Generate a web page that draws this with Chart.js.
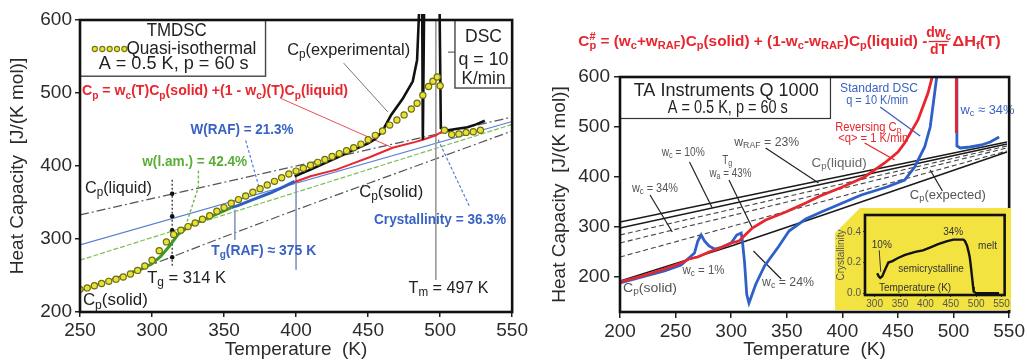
<!DOCTYPE html>
<html><head><meta charset="utf-8">
<script src="https://cdn.jsdelivr.net/npm/chart.js@4.4.1/dist/chart.umd.min.js"></script>
<style>
html,body{margin:0;padding:0;background:#fff;}
#wrap{position:relative;width:1027px;height:361px;overflow:hidden;background:#fff;}
canvas{position:absolute;}
</style></head><body>
<div id="wrap">
<canvas id="cvL" width="530" height="361" style="left:0;top:0"></canvas>
<canvas id="cvR" width="497" height="361" style="left:530px;top:0"></canvas>
<canvas id="cvI" width="176" height="103" style="left:835px;top:207px"></canvas>
</div>
<script>
const FONT = '"Liberation Sans", Arial, Helvetica, sans-serif';

// ---------- left panel: TMDSC quasi-isothermal vs DSC ----------
const xTicksL = [250, 300, 350, 400, 450, 500, 550];
const yTicksL = [200, 300, 400, 500, 600];

const qiT  = [250,255,260,265,270,275,280,285,290,295,300,305,310,315,320,325,330,335,340,345,350,355,360,365,370,375,380,385,390,395,400,405,410,415,420,425,430,435,440,445,450,455,460,465,470,475,480,484,488,492,495,498,500,503,508,513,518,523,528];
const qiCp = [231,233,236,239,242,245,248,252,257,263,271,284,296,306,312,317,322,327,332,338,343,349,354,359,364,369,374,379,384,389,393,397,401,405,409,413,417,421,425,430,436,442,448,456,463,470,478,486,497,509,516,522,510,449,443,444,446,447,449];

const dscT  = [399,410,420,430,440,450,455,460,466,474,481,484,486,487.5,488,489,490,499.5,500.5,505.5,512,519,525,531];
const dscCp = [386,395,404,413,422,431,437,448,470,492,516,545,640,640,436,640,640,640,452,449,451,453,457,462];

const calcT  = [399,410,428,440,451,467,483,488,497,503];
const calcCp = [378,386,395,404,412,425,433,436,442,449];

const lamT  = [285,292,300,306,312,318,327,339,355];
const lamCp = [254,258,266,276,290,306,319,329,343];
const rafT  = [355,360,370,382,392,399];
const rafCp = [343,346,354,363,372,379];

const liqT = [250, 550],  liqCp = [333, 467];
const solT = [250, 300, 350, 400, 450, 500, 550], solCp = [229, 265, 303, 340, 376, 412, 448];
const rafRefT = [250, 550], rafRefCp = [292, 461];
const lamRefT = [250, 550], lamRefCp = [271, 457];

const tgT = [314,314,314,314,314,314], tgCp = [381,362,331,312,275,262];

// ---------- right panel: reversing Cp vs standard DSC ----------
const xTicksR = [200, 250, 300, 350, 400, 450, 500, 550];
const yTicksR = [200, 300, 400, 500, 600];

const revT  = [200,220,240,255,262,270,280,290,300,307,313,319,331,349,367,380,400,420,438,450,456,468,477,482,490,502.5,502.5];
const revCp = [190,202,216,228,236,240,250,258,268,272,285,298,314,330,348,362,380,400,428,450,468,514,568,610,null,610,488];

const stdT  = [200,220,240,255,262,267,270,273,276,280,285,292,300,305,309,310,312,314,316,318,322,330,343,352,367,381,417,440,456,465,474,479,483,486,495,503,503,506,515,525,533,541];
const stdCp = [188,200,212,224,238,248,272,284,272,262,256,260,268,284,288,274,230,165,148,160,185,222,262,292,316,330,364,380,394,420,460,500,568,620,null,620,462,458,460,464,470,480];

const liqRT = [200, 548], liqRCp = [310, 470];
const w10T  = [200, 548], w10Cp  = [298, 466];
const w34T  = [200, 548], w34Cp  = [284, 462];
const wAT   = [200, 548], wACp   = [268, 458];
const wBT   = [200, 548], wBCp   = [240, 452];
const solRT = [200, 300, 380, 548], solRCp = [192, 262, 322, 450];

// ---------- inset: crystallinity ----------
const xTicksI = [300, 350, 400, 450, 500, 550];
const yTicksI = [0.0, 0.2, 0.4];
const crT = [305,308,311,315,320,327,335,346,360,380,395,410,425,443,455,469,475,478,482,485,487,489,492,494,495,500,510,520,530,545];
const crW = [0.13,0.11,0.10,0.11,0.15,0.20,0.21,0.23,0.25,0.27,0.28,0.30,0.32,0.34,0.35,0.35,0.35,0.34,0.31,0.27,0.24,0.19,0.10,0.04,0.01,0.0,0.0,0.0,0.0,0.0];

// ---------- helpers ----------
function pts(T, C) { return T.map((t, i) => ({ x: t, y: C[i] })); }
function line(T, C, color, width, dash, extra) {
  return Object.assign({
    data: pts(T, C), borderColor: color, borderWidth: width, borderDash: dash || [],
    pointRadius: 0, fill: false, tension: 0, spanGaps: false
  }, extra || {});
}

function parseRich(s) {
  const out = []; const re = /_\{([^}]*)\}|\^\{([^}]*)\}|([^_^]+)/g; let m;
  while ((m = re.exec(s))) {
    if (m[1] !== undefined) out.push({ t: m[1], m: 'b' });
    else if (m[2] !== undefined) out.push({ t: m[2], m: 'p' });
    else out.push({ t: m[3], m: '' });
  }
  return out;
}
function drawRich(ctx, x, y, s, o) {
  const size = o.size || 14, wt = o.weight || 'normal';
  const parts = parseRich(s);
  parts.forEach(p => { p.fs = p.m ? size * 0.72 : size; ctx.font = `${wt} ${p.fs}px ${FONT}`; p.w = ctx.measureText(p.t).width; });
  let total = 0;
  parts.forEach((p, i) => {
    const nx = parts[i + 1], pv = parts[i - 1];
    if (p.m === 'p' && nx && nx.m === 'b') p.adv = 0;
    else if (p.m === 'b' && pv && pv.m === 'p') p.adv = Math.max(p.w, pv.w);
    else p.adv = p.w;
    total += p.adv;
  });
  const sx = o.w ? o.w / total : 1;
  const W = total * sx;
  const x0 = o.align === 'center' ? x - W / 2 : o.align === 'right' ? x - W : x;
  ctx.save();
  ctx.translate(x0, y); ctx.scale(sx, 1);
  ctx.fillStyle = o.color || '#222'; ctx.textBaseline = 'middle'; ctx.textAlign = 'left';
  let cx = 0;
  parts.forEach(p => {
    ctx.font = `${wt} ${p.fs}px ${FONT}`;
    const dy = p.m === 'b' ? size * 0.3 : p.m === 'p' ? -size * 0.34 : 0;
    ctx.fillText(p.t, cx, dy);
    cx += p.adv;
  });
  ctx.restore();
}

function makeNotes(items) {
  return {
    id: 'notes',
    afterDatasetsDraw(chart) {
      const ctx = chart.ctx, xs = chart.scales.x, ys = chart.scales.y;
      const X = v => xs.getPixelForValue(v), Y = v => ys.getPixelForValue(v);
      items.forEach(it => {
        if (it.t === 'text') drawRich(ctx, X(it.x), Y(it.y), it.s, it);
        else if (it.t === 'box') {
          ctx.save(); ctx.strokeStyle = it.color || '#333'; ctx.lineWidth = it.lw || 1.2;
          ctx.fillStyle = '#fff';
          const x1 = X(it.x1), y1 = Y(it.y1), x2 = X(it.x2), y2 = Y(it.y2);
          ctx.fillRect(x1, y1, x2 - x1, y2 - y1);
          ctx.strokeRect(x1, y1, x2 - x1, y2 - y1); ctx.restore();
        } else if (it.t === 'dots') {
          ctx.save(); ctx.fillStyle = '#e8e13a'; ctx.strokeStyle = '#77770f'; ctx.lineWidth = 1.1;
          it.xs.forEach(v => { ctx.beginPath(); ctx.arc(X(v), Y(it.y), 2.6, 0, Math.PI * 2); ctx.fill(); ctx.stroke(); });
          ctx.restore();
        } else if (it.t === 'frac') {
          const cx = X(it.x);
          drawRich(ctx, cx, Y(it.y1), it.num, { size: it.size, color: it.color, weight: it.weight, align: 'center' });
          drawRich(ctx, cx, Y(it.y2), it.den, { size: it.size, color: it.color, weight: it.weight, align: 'center' });
          ctx.save(); ctx.strokeStyle = it.color; ctx.lineWidth = 1.3;
          const ym = (Y(it.y1) + Y(it.y2)) / 2;
          ctx.beginPath(); ctx.moveTo(cx - it.half, ym); ctx.lineTo(cx + it.half, ym); ctx.stroke(); ctx.restore();
        }
      });
      const a = chart.chartArea;
      ctx.save(); ctx.strokeStyle = '#111'; ctx.lineWidth = 2.6;
      ctx.strokeRect(a.left, a.top, a.right - a.left, a.bottom - a.top); ctx.restore();
    }
  };
}

function axis(o) {
  const ticks = { autoSkip: false, maxRotation: 0, padding: o.pad, color: '#2b2b2b', font: { family: FONT, size: o.fs } };
  if (o.cb) ticks.callback = o.cb;
  return {
    type: 'linear', min: o.min, max: o.max,
    afterBuildTicks: s => { s.ticks = o.ticks.map(v => ({ value: v })); },
    afterFit: s => { if (o.w != null) s.width = o.w; if (o.h != null) s.height = o.h; },
    grid: { display: true, drawOnChartArea: false, drawTicks: true, tickLength: o.tl, color: '#222', lineWidth: 1.5 },
    border: { display: false },
    ticks,
    title: { display: !!o.title, text: o.title, color: '#2b2b2b', font: { family: FONT, size: o.tfs || o.fs }, padding: o.tpad || 0 }
  };
}

function baseOptions(pad, xs, ys) {
  return {
    responsive: false, animation: false, events: [],
    layout: { padding: pad },
    plugins: { legend: { display: false }, tooltip: { enabled: false } },
    scales: { x: xs, y: ys }
  };
}

// ---------- left chart ----------
const GRAY = '#555';
const leftSets = [
  line(liqT, liqCp, GRAY, 1.2, [9, 3, 2, 3]),
  line(solT, solCp, GRAY, 1.2, [9, 3, 2, 3]),
  line(rafRefT, rafRefCp, '#5a7fd0', 1.2, []),
  line(lamRefT, lamRefCp, '#7cc05a', 1.2, [5, 2]),
  line([497, 497], [600, 244], '#9a9a9a', 1),
  line([400, 400], [385, 258], '#8a9cc4', 1),
  line([357.5, 357.5], [340, 299], '#8a9cc4', 1),
  line(tgT, tgCp, '#222', 1.2, [2, 2], { pointRadius: [0, 2.3, 2.3, 2.3, 2.3, 0], pointBackgroundColor: '#111', pointBorderWidth: 0 }),
  line([433, 463.7], [541, 474], '#777', 1),
  line([389, 467], [493, 425], '#e8505a', 1),
  line([365, 375.3], [435, 364], '#5a7fd0', 1.2, [3, 2]),
  line([332.2, 332.2, 324], [394, 371, 322], '#6cbb4a', 1.4, [3, 2]),
  line([498.6, 520.5], [436, 344], '#5a7fd0', 1.2, [3, 2]),
  line([526, 505.5], [556, 556], '#444', 1),
  line(lamT, lamCp, '#3b9a2a', 3),
  line(rafT, rafCp, '#2f5fc0', 3),
  line(calcT, calcCp, '#e8262e', 2),
  line(dscT, dscCp, '#111', 2.6, [], { clip: { left: 0, right: 0, top: 6, bottom: 0 } }),
  line(qiT, qiCp, '#77770f', 0, [], { showLine: false, pointRadius: 3.1, pointBackgroundColor: '#e8e13a', pointBorderColor: '#6e6e0c', pointBorderWidth: 1.2 })
].reverse();

const leftNotes = [
  { t: 'box', x1: 250, y1: 600, x2: 378.8, y2: 523, lw: 1.4, color: '#444' },
  { t: 'text', x: 317.1, y: 584.9, s: 'TMDSC', size: 18, w: 60, align: 'center', color: '#222' },
  { t: 'dots', xs: [260.3, 265.5, 270.6, 275.7, 280.8], y: 560.3 },
  { t: 'text', x: 282.2, y: 560.3, s: 'Quasi-isothermal', size: 18, w: 130, color: '#222' },
  { t: 'text', x: 315, y: 539.7, s: 'A = 0.5 K, p = 60 s', size: 18, w: 150, align: 'center', color: '#222' },
  { t: 'text', x: 251.4, y: 502.7, s: 'C_{p} = w_{c}(T)C_{p}(solid) +(1 - w_{c})(T)C_{p}(liquid)', size: 15, w: 266, weight: 'bold', color: '#e8262e' },
  { t: 'box', x1: 510.3, y1: 600, x2: 550, y2: 506.8, lw: 1.4, color: '#444' },
  { t: 'text', x: 530.1, y: 576.7, s: 'DSC', size: 18, w: 37, align: 'center', color: '#222' },
  { t: 'text', x: 530.1, y: 545.2, s: 'q = 10', size: 18, w: 50, align: 'center', color: '#222' },
  { t: 'text', x: 530.1, y: 519.2, s: 'K/min', size: 18, w: 44, align: 'center', color: '#222' },
  { t: 'text', x: 393.8, y: 558.9, s: 'C_{p}(experimental)', size: 17, w: 123, color: '#222' },
  { t: 'text', x: 326.7, y: 449.3, s: 'W(RAF) = 21.3%', size: 15, w: 103, weight: 'bold', color: '#3a62c4' },
  { t: 'text', x: 293.2, y: 405.5, s: 'w(l.am.) = 42.4%', size: 15, w: 105, weight: 'bold', color: '#5aae38' },
  { t: 'text', x: 253.4, y: 369.9, s: 'C_{p}(liquid)', size: 17, w: 67, color: '#222' },
  { t: 'text', x: 296.6, y: 246.6, s: 'T_{g} = 314 K', size: 17, w: 79, color: '#222' },
  { t: 'text', x: 252, y: 216.4, s: 'C_{p}(solid)', size: 17, w: 65, color: '#222' },
  { t: 'text', x: 341.1, y: 283.6, s: 'T_{g}(RAF) ≈ 375 K', size: 15, w: 105, weight: 'bold', color: '#3a62c4' },
  { t: 'text', x: 443.8, y: 364.4, s: 'C_{p}(solid)', size: 17, w: 64, color: '#222' },
  { t: 'text', x: 454.1, y: 326, s: 'Crystallinity = 36.3%', size: 15, w: 132, weight: 'bold', color: '#3a62c4' },
  { t: 'text', x: 478.1, y: 232.9, s: 'T_{m} = 497 K', size: 17, w: 80, color: '#222' }
];

new Chart(document.getElementById('cvL'), {
  type: 'line',
  data: { datasets: leftSets },
  options: baseOptions({ left: 0, right: 12, top: 20, bottom: 0 },
    axis({ min: 250, max: 550, ticks: xTicksL, h: 49, tl: 5, pad: 2, fs: 19, title: 'Temperature  (K)', tfs: 19 }),
    axis({ min: 200, max: 600, ticks: yTicksL, w: 80, tl: 5, pad: 3, fs: 19, title: 'Heat Capacity  [J/(K mol)]', tfs: 19, tpad: { top: 6, bottom: 0 } })),
  plugins: [makeNotes(leftNotes)]
});

// ---------- right chart ----------
const rightSets = [
  line(liqRT, liqRCp, '#1a1a1a', 1.6),
  line(w10T, w10Cp, '#1a1a1a', 1.6),
  line(w34T, w34Cp, '#444', 1.1, [5, 3]),
  line(wAT, wACp, '#444', 1.1, [5, 3]),
  line(wBT, wBCp, '#444', 1.1, [5, 3]),
  line(solRT, solRCp, '#1a1a1a', 1.6),
  line([262.5, 283], [430, 338], '#222', 1.2),
  line([227, 247], [364, 290], '#222', 1.2),
  line([331, 378.6], [458, 388], '#222', 1.2),
  line([298, 319], [394, 298], '#222', 1.2),
  line([320, 345], [252, 196], '#222', 1.2),
  line([479, 490], [414, 372], '#222', 1.2),
  line([434, 470], [540, 482], '#3a62c4', 1.4),
  line([420, 447], [468, 434], '#e8262e', 1.4),
  line(stdT, stdCp, '#2f5fc8', 2.8),
  line(revT, revCp, '#e8262e', 2.8)
].reverse();

const rightNotes = [
  { t: 'text', x: 162.5, y: 670, s: 'C^{#}_{p} = (w_{c}+w_{RAF})C_{p}(solid) + (1-w_{c}-w_{RAF})C_{p}(liquid) -', size: 15, w: 349, weight: 'bold', color: '#e8262e' },
  { t: 'frac', x: 486.6, y1: 688, y2: 654, num: 'dw_{c}', den: 'dT', size: 14, color: '#e8262e', weight: 'bold', half: 10 },
  { t: 'text', x: 499.1, y: 670, s: 'ΔH_{f}(T)', size: 15, w: 48, weight: 'bold', color: '#e8262e' },
  { t: 'box', x1: 200, y1: 600, x2: 389.3, y2: 517, lw: 1.2, color: '#333' },
  { t: 'text', x: 295.5, y: 572, s: 'TA Instruments Q 1000', size: 18, w: 185, align: 'center', color: '#222' },
  { t: 'text', x: 297, y: 538, s: 'A = 0.5 K, p = 60 s', size: 18, w: 120, align: 'center', color: '#222' },
  { t: 'text', x: 433, y: 578, s: 'Standard DSC', size: 13, w: 78, align: 'center', color: '#3a62c4' },
  { t: 'text', x: 431.3, y: 554, s: 'q = 10 K/min', size: 13, w: 62, align: 'center', color: '#3a62c4' },
  { t: 'text', x: 423.2, y: 500, s: 'Reversing C_{p}', size: 13, w: 66, align: 'center', color: '#e8262e' },
  { t: 'text', x: 427.7, y: 478, s: '<q> = 1 K/min', size: 13, w: 70, align: 'center', color: '#e8262e' },
  { t: 'text', x: 506.25, y: 534, s: 'w_{c} ≈ 34%', size: 13, w: 54, color: '#3a62c4' },
  { t: 'text', x: 372.3, y: 428, s: 'C_{p}(liquid)', size: 13, w: 55, color: '#666' },
  { t: 'text', x: 460.7, y: 364, s: 'C_{p}(expected)', size: 13, w: 76, color: '#555' },
  { t: 'text', x: 237.5, y: 450, s: 'w_{c} = 10%', size: 13, w: 43, color: '#555' },
  { t: 'text', x: 210.7, y: 378, s: 'w_{c} = 34%', size: 13, w: 46, color: '#555' },
  { t: 'text', x: 302.7, y: 470, s: 'w_{RAF} = 23%', size: 13, w: 65, color: '#555' },
  { t: 'text', x: 292, y: 434, s: 'T_{g}', size: 13, w: 10, color: '#555' },
  { t: 'text', x: 280.4, y: 408, s: 'w_{a} = 43%', size: 13, w: 42, color: '#555' },
  { t: 'text', x: 256.25, y: 214, s: 'w_{c} = 1%', size: 13, w: 42, color: '#555' },
  { t: 'text', x: 327.7, y: 190, s: 'w_{c} = 24%', size: 13, w: 52, color: '#555' },
  { t: 'text', x: 202.7, y: 178, s: 'C_{p}(solid)', size: 13, w: 54, color: '#555' }
];

new Chart(document.getElementById('cvR'), {
  type: 'line',
  data: { datasets: rightSets },
  options: baseOptions({ left: 14, right: 14, top: 77, bottom: 0 },
    axis({ min: 200, max: 550, ticks: xTicksR, h: 49, tl: 6, pad: 2, fs: 19, title: 'Temperature  (K)', tfs: 19 }),
    axis({ min: 130, max: 600, ticks: yTicksR, w: 76, tl: 6, pad: 4, fs: 19, title: 'Heat Capacity  [J/(K mol)]', tfs: 19, tpad: { top: 4, bottom: 0 } })),
  plugins: [makeNotes(rightNotes)]
});

// ---------- inset chart ----------
const insetBg = {
  id: 'insetBg',
  beforeDraw(chart) {
    const c = chart.ctx, W = chart.width, H = chart.height;
    c.save(); c.fillStyle = '#f2e340';
    c.beginPath(); c.moveTo(25, 1); c.lineTo(W, 1); c.lineTo(W, H); c.lineTo(0, H); c.lineTo(0, 26); c.closePath(); c.fill();
    c.restore();
  }
};
const insetNotes = [
  { t: 'text', x: 294.4, y: 0.314, s: '10%', size: 10, color: '#333' },
  { t: 'text', x: 435, y: 0.40, s: '34%', size: 10, color: '#333' },
  { t: 'text', x: 503.7, y: 0.308, s: 'melt', size: 10, color: '#333' },
  { t: 'text', x: 411, y: 0.154, s: 'semicrystalline', size: 10, align: 'center', color: '#333' },
  { t: 'text', x: 379.6, y: 0.031, s: 'Temperature (K)', size: 10, align: 'center', color: '#333' }
];
const insetSets = [
  line([309, 312], [0.28, 0.14], '#333', 1),
  line(crT, crW, '#111', 2.4)
].reverse();
const insetAxis = (o) => {
  const a = axis(o);
  a.grid.color = '#333'; a.grid.lineWidth = 1;
  a.ticks.color = '#555';
  a.title.color = '#555';
  return a;
};
new Chart(document.getElementById('cvI'), {
  type: 'line',
  data: { datasets: insetSets },
  options: baseOptions({ left: 0, right: 3, top: 3, bottom: 0 },
    insetAxis({ min: 281, max: 556, ticks: xTicksI, h: 15, tl: 2, pad: 1, fs: 10 }),
    insetAxis({ min: -0.012, max: 0.511, ticks: yTicksI, w: 30, tl: 2, pad: 2, fs: 10, cb: v => v.toFixed(1), title: 'Crystallinity', tfs: 10, tpad: { top: 0, bottom: 0 } })),
  plugins: [insetBg, makeNotes(insetNotes)]
});
</script>
</body></html>
